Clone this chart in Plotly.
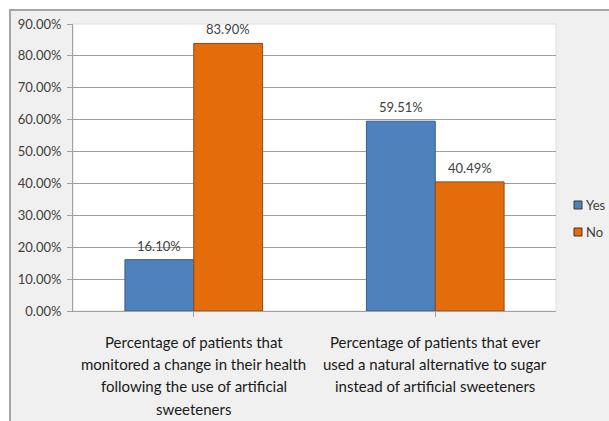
import plotly.graph_objects as go

# Survey results on artificial sweetener use
categories = [
    "Percentage of patients that monitored a change in their health following the use of artificial sweeteners",
    "Percentage of patients that ever used a natural alternative to sugar instead of artificial sweeteners",
]
category_lines = [
    ["Percentage of patients that", "monitored a change in their health",
     "following the use of artificial", "sweeteners"],
    ["Percentage of patients that ever", "used a natural alternative to sugar",
     "instead of artificial sweeteners"],
]
yes_values = [0.1610, 0.5951]
no_values = [0.8390, 0.4049]
series_names = ["Yes", "No"]
y_ticks = [0.0, 0.1, 0.2, 0.3, 0.4, 0.5, 0.6, 0.7, 0.8, 0.9]

W, H = 609, 421
ML, MR, MT, MB = 73, 53, 24, 110
BARGAP = 0.43
FONT = "Lato"
TEXT_GREY = "#404040"
GRID = "#a0a0a0"

colors = ["#4f81bd", "#e46c0a"]
outlines = ["#385d8a", "#8a4a17"]

pw = W - ML - MR
ph = H - MT - MB
fx = lambda px: (px - ML) / pw
fy = lambda py: (H - MB - py) / ph

fig = go.Figure()
for name, vals, col, oc in zip(series_names, [yes_values, no_values], colors, outlines):
    fig.add_trace(go.Bar(
        name=name, x=list(range(len(categories))), y=vals,
        marker=dict(color=col, line=dict(color=oc, width=1)),
        showlegend=False,
    ))

# value labels above each bar
n_series = len(series_names)
bar_w = (1 - BARGAP) / n_series
annotations = []
for s, vals in enumerate([yes_values, no_values]):
    off = -(1 - BARGAP) / 2 + bar_w * (s + 0.5)
    for i, v in enumerate(vals):
        annotations.append(dict(
            x=i + off, y=v, xref="x", yref="y", text=f"{v*100:.2f}%",
            showarrow=False, yanchor="bottom", yshift=4,
            font=dict(family=FONT, size=13, color=TEXT_GREY),
        ))

# multi-line category labels under the axis
LINE_GAP = 22.3
for i, lines in enumerate(category_lines):
    for k, line in enumerate(lines):
        annotations.append(dict(
            x=i, y=0, xref="x", yref="paper", text=line, showarrow=False,
            yanchor="middle", yshift=-(30.7 + k * LINE_GAP),
            font=dict(family=FONT, size=15, color="#1a1a1a"),
        ))

shapes = [
    dict(type="rect", xref="paper", yref="paper", layer="below",
         x0=fx(10), x1=fx(W + 10), y0=fy(H + 10), y1=fy(10),
         fillcolor="#f0f0f0", line=dict(color="#a6a6a6", width=2)),
    dict(type="rect", xref="paper", yref="paper", layer="below",
         x0=0, x1=1, y0=0, y1=1, fillcolor="white",
         line=dict(color="#e0e0e0", width=1)),
]

# legend keys at the right of the plot
LEG_X, LEG_Y0, LEG_STEP, KEY = 574, 205, 27, 8
for s, name in enumerate(series_names):
    cy = LEG_Y0 + s * LEG_STEP
    shapes.append(dict(
        type="rect", xref="paper", yref="paper",
        x0=fx(LEG_X), x1=fx(LEG_X + KEY), y0=fy(cy + KEY / 2), y1=fy(cy - KEY / 2),
        fillcolor=colors[s], line=dict(color="#3a3a3a", width=1)))
    annotations.append(dict(
        x=fx(LEG_X + KEY + 2), y=fy(cy), xref="paper", yref="paper",
        text=name, showarrow=False, xanchor="left", yanchor="middle",
        font=dict(family=FONT, size=13, color=TEXT_GREY)))

fig.update_layout(
    width=W, height=H,
    margin=dict(l=ML, r=MR, t=MT, b=MB, autoexpand=False),
    paper_bgcolor="white", plot_bgcolor="white",
    barmode="group", bargap=BARGAP,
    showlegend=False,
    xaxis=dict(range=[-0.5, 1.5], tickmode="array",
               tickvals=[0, 1], ticktext=["", ""],
               tickson="boundaries", ticks="outside", ticklen=5,
               tickcolor=GRID, showline=True, linecolor=GRID,
               showgrid=False, zeroline=False, fixedrange=True),
    yaxis=dict(range=[0, 0.9], tickvals=y_ticks, tickformat=".2%",
               ticks="outside", ticklen=5, tickcolor=GRID,
               showline=True, linecolor=GRID, gridcolor=GRID, gridwidth=1,
               zeroline=False, ticklabelstandoff=3,
               tickfont=dict(family=FONT, size=13, color=TEXT_GREY)),
    annotations=annotations,
    shapes=shapes,
)

fig.write_html("out.html")
